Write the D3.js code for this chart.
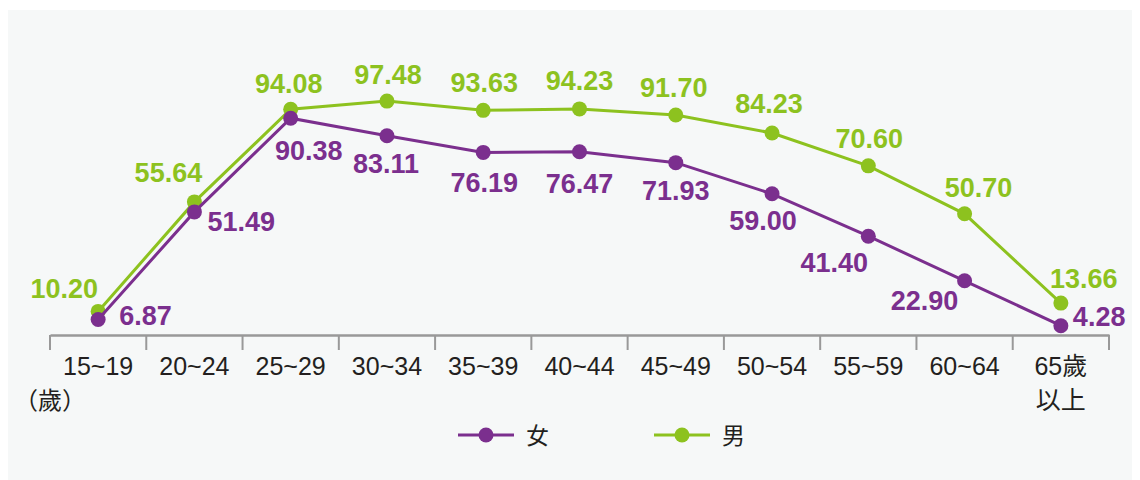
<!DOCTYPE html>
<html>
<head>
<meta charset="utf-8">
<script src="https://cdn.jsdelivr.net/npm/d3@7"></script>
<style>
  body { margin: 0; background: #fff; }
  svg text { font-family: "Liberation Sans", Arial, "Noto Sans CJK TC", sans-serif; }
</style>
</head>
<body>
<svg id="chart" width="1140" height="480"></svg>
<script>
// DATA
const ageGroups = ["15~19", "20~24", "25~29", "30~34", "35~39", "40~44", "45~49", "50~54", "55~59", "60~64", "65歲\n以上"];
const femaleRates = [6.87, 51.49, 90.38, 83.11, 76.19, 76.47, 71.93, 59.00, 41.40, 22.90, 4.28];
const maleRates = [10.20, 55.64, 94.08, 97.48, 93.63, 94.23, 91.70, 84.23, 70.60, 50.70, 13.66];
const seriesNames = ["女", "男"];

const purple = "#7b2f8e", green = "#8dc21f";

// label placement (dx, dy, anchor) per point
const maleLabelPos = [
    [0, -13, "end"], [-26, -20, "middle"], [-2, -16, "middle"], [1, -17, "middle"],
    [1, -18, "middle"], [0, -19, "middle"], [-2, -18, "middle"], [-3, -20, "middle"],
    [1, -18, "middle"], [14, -17, "middle"], [23, -15, "middle"]
];
const femaleLabelPos = [
    [21, 6, "start"], [13, 19, "start"], [18, 42, "middle"], [-1, 37, "middle"],
    [1, 40, "middle"], [0, 41, "middle"], [0, 37, "middle"], [-9, 36, "middle"],
    [-34, 36, "middle"], [-40, 29, "middle"], [12, 0, "start"]
];

const svg = d3.select("#chart");

svg.append("rect")
    .attr("x", 8).attr("y", 10)
    .attr("width", 1124).attr("height", 470)
    .attr("fill", "#f6f8f8");

const x = d3.scaleBand()
    .domain(ageGroups)
    .range([50, 1109])
    .padding(0);

const y = d3.scaleLinear()
    .domain([0, 100])
    .range([336, 95]);

// x axis
const axis = svg.append("g")
    .attr("transform", "translate(0,335)")
    .call(d3.axisBottom(x).tickSize(0).tickFormat(""));
axis.select(".domain").attr("stroke", "#999").attr("stroke-width", 2.5);

const tickPos = ageGroups.map(d => x(d)).concat([x.range()[1]]);
svg.append("g").selectAll("line").data(tickPos)
    .join("line")
    .attr("x1", d => d).attr("x2", d => d)
    .attr("y1", 335).attr("y2", 350)
    .attr("stroke", "#999").attr("stroke-width", 2);

const tickLabels = svg.append("g").selectAll("text").data(ageGroups)
    .join("text")
    .attr("x", d => x(d) + x.bandwidth() / 2)
    .attr("y", 375)
    .attr("text-anchor", "middle")
    .attr("font-size", 25)
    .attr("fill", "#231f20");
tickLabels.each(function (d) {
    const lines = d.split("\n");
    const t = d3.select(this);
    lines.forEach((ln, i) => {
        t.append("tspan")
            .attr("x", x(d) + x.bandwidth() / 2)
            .attr("dy", i === 0 ? 0 : 34)
            .text(ln);
    });
});

svg.append("text")
    .attr("x", 50).attr("y", 409)
    .attr("text-anchor", "middle")
    .attr("font-size", 24)
    .attr("fill", "#231f20")
    .text("（歲）");

// lines
const line = d3.line()
    .x((d, i) => x(ageGroups[i]) + x.bandwidth() / 2)
    .y(d => y(d));

function drawSeries(values, color) {
    const g = svg.append("g");
    g.append("path")
        .datum(values)
        .attr("d", line)
        .attr("fill", "none")
        .attr("stroke", color)
        .attr("stroke-width", 3);
    g.selectAll("circle").data(values)
        .join("circle")
        .attr("cx", (d, i) => x(ageGroups[i]) + x.bandwidth() / 2)
        .attr("cy", d => y(d))
        .attr("r", 7.5)
        .attr("fill", color);
    return g;
}

function drawLabels(values, color, labelPos) {
    svg.append("g").selectAll("text").data(values)
        .join("text")
        .attr("x", (d, i) => x(ageGroups[i]) + x.bandwidth() / 2 + labelPos[i][0])
        .attr("y", (d, i) => y(d) + labelPos[i][1])
        .attr("text-anchor", (d, i) => labelPos[i][2])
        .attr("font-size", 27)
        .attr("font-weight", "bold")
        .attr("fill", color)
        .text(d => d.toFixed(2));
}

drawSeries(maleRates, green);
drawSeries(femaleRates, purple);
drawLabels(maleRates, green, maleLabelPos);
drawLabels(femaleRates, purple, femaleLabelPos);

// legend
const legend = svg.append("g");
const legendItems = [
    { name: seriesNames[0], color: purple, x0: 458 },
    { name: seriesNames[1], color: green, x0: 654 }
];
legendItems.forEach(it => {
    legend.append("line")
        .attr("x1", it.x0).attr("x2", it.x0 + 56)
        .attr("y1", 435).attr("y2", 435)
        .attr("stroke", it.color).attr("stroke-width", 3);
    legend.append("circle")
        .attr("cx", it.x0 + 28).attr("cy", 435)
        .attr("r", 7.5).attr("fill", it.color);
    legend.append("text")
        .attr("x", it.x0 + 68).attr("y", 444)
        .attr("font-size", 23)
        .attr("fill", "#231f20")
        .text(it.name);
});
</script>
</body>
</html>
